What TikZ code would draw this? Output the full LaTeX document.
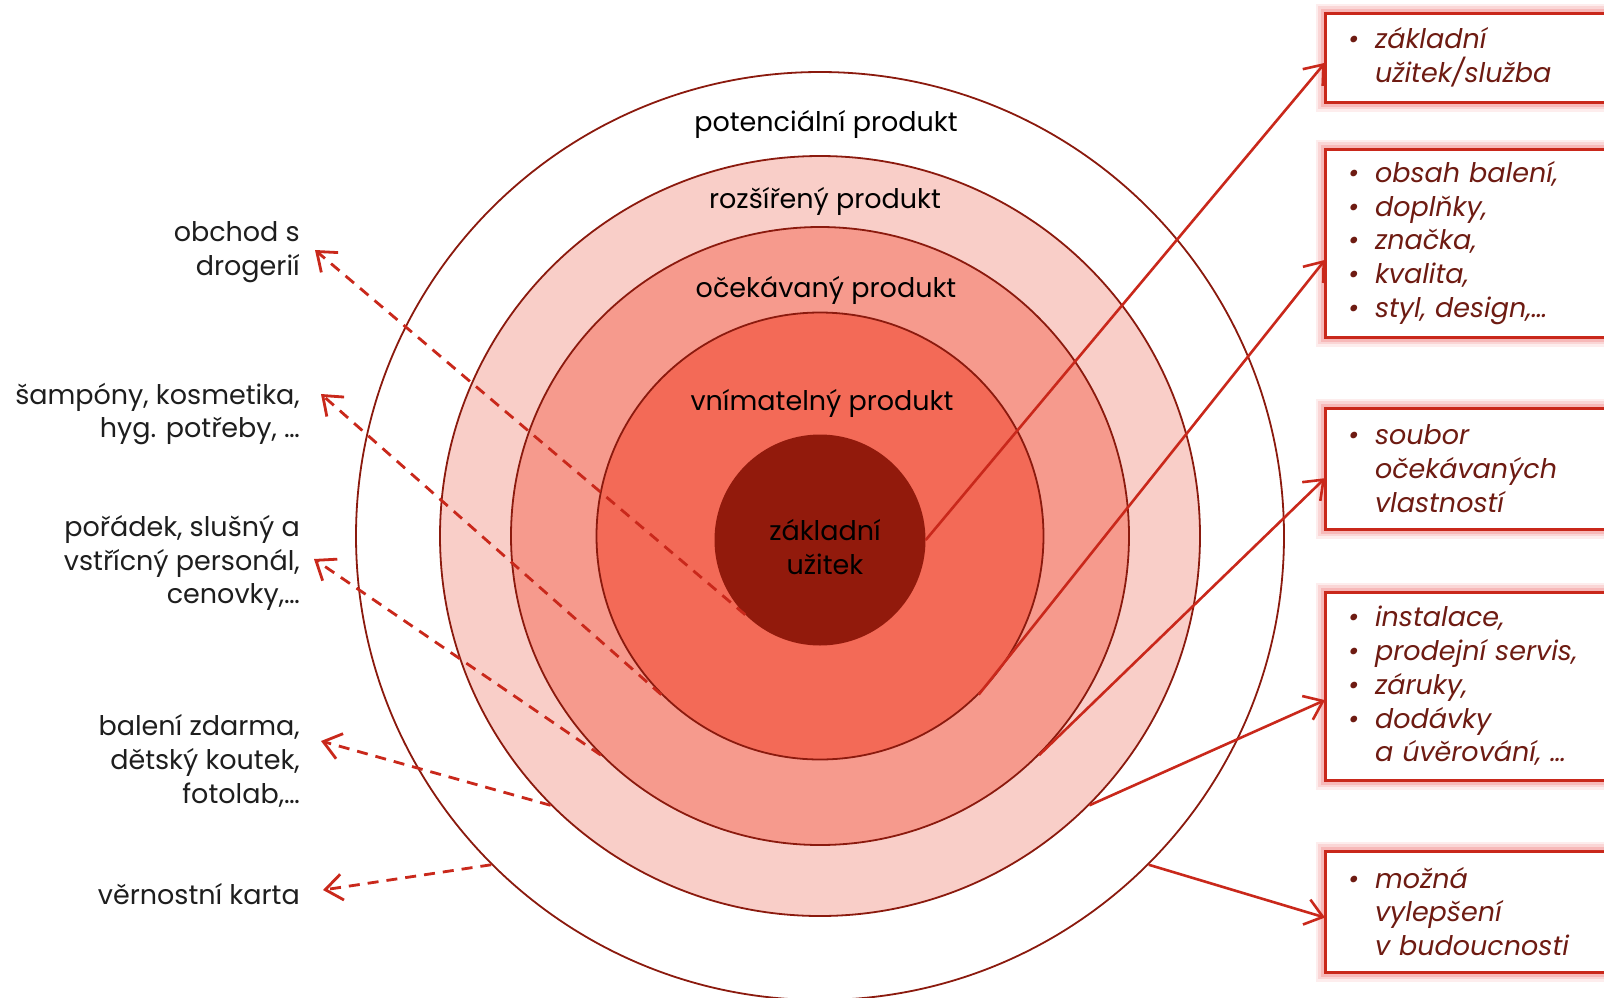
\documentclass[tikz,border=0pt]{standalone}
\usepackage{fontspec}
\setmainfont{Poppins}
\usetikzlibrary{arrows.meta,calc}

\definecolor{ringline}{HTML}{8B1A0E}
\definecolor{ringA}{HTML}{F9CEC8}
\definecolor{ringB}{HTML}{F69A8D}
\definecolor{ringC}{HTML}{F36A57}
\definecolor{core}{HTML}{921A0C}
\definecolor{arrowred}{HTML}{C9281B}
\definecolor{boxtext}{HTML}{6E1B12}
\definecolor{labeltext}{HTML}{1E1E1E}
\definecolor{glow}{HTML}{F07070}

\newcommand{\bitem}[1]{\makebox[27pt][l]{\textbullet}#1}
\newcommand{\cont}[1]{\hspace*{27pt}#1}

\begin{document}
\begin{tikzpicture}[x=1pt,y=-1pt,
  txt/.style={font=\fontsize{27}{33.7}\selectfont, inner sep=0pt},
  ring/.style={circle, draw=ringline, line width=1.8pt, inner sep=0pt},
  lefttext/.style={txt, text=labeltext, align=right, anchor=east},
  ringtext/.style={txt, text=black, align=center},
  infobox/.style={rectangle, draw=arrowred, line width=3pt, fill=white,
    outer sep=0pt, anchor=north west, minimum width=330pt,
    text width=290pt, inner xsep=23pt, align=left,
    font=\fontsize{27}{33.7}\selectfont\itshape, text=boxtext,
    preaction={draw=glow, line width=19pt, draw opacity=0.12},
    preaction={draw=glow, line width=14pt, draw opacity=0.18},
    preaction={draw=glow, line width=9pt, draw opacity=0.28}},
  dasharrow/.style={draw=arrowred, line width=2.8pt, dash pattern=on 11pt off 8pt,
    -{Straight Barb[length=17pt,width=26pt]}},
  solidarrow/.style={draw=arrowred, line width=2.6pt,
    -{Straight Barb[length=17pt,width=26pt]}}
]
\clip (0,0) rectangle (1604,997);
\fill[white] (0,0) rectangle (1604,997);

% concentric product levels
\node[ring, fill=white, minimum size=928pt] (outer) at (820,536) {};
\node[ring, fill=ringA, minimum size=760pt] (ext) at (820,536) {};
\node[ring, fill=ringB, minimum size=618pt] (exp) at (820,536) {};
\node[ring, fill=ringC, minimum size=447pt] (tang) at (820,536) {};
\node[circle, fill=core, inner sep=0pt, minimum size=211pt] (core) at (820,540) {};

% level names
\node[ringtext] (lpot) at (826,124) {potenciální produkt};
\node[ringtext] (lext) at (825,201) {rozšířený produkt};
\node[ringtext] (lexp) at (826,290) {očekávaný produkt};
\node[ringtext] (ltang) at (822,403) {vnímatelný produkt};
\node[ringtext] (lcore) at (825,547) {základní\\užitek};

% examples on the left
\node[lefttext] (ex1) at (300,252) {obchod s\\drogerií};
\node[lefttext] (ex2) at (300,414) {šampóny, kosmetika,\\hyg. potřeby, …};
\node[lefttext] (ex3) at (300,563) {pořádek, slušný a\\vstřícný personál,\\cenovky,…};
\node[lefttext] (ex4) at (300,761) {balení zdarma,\\dětský koutek,\\fotolab,…};
\node[lefttext] (ex5) at (300,894) {věrnostní karta};

\coordinate (t1) at (315,250);
\coordinate (t2) at (321,394);
\coordinate (t3) at (314,559);
\coordinate (t4) at (321,741);
\coordinate (t5) at (323,890);

% descriptions on the right
\node[infobox, minimum height=89pt] (b1) at (1325,13)
  {\bitem{základní}\\\cont{užitek/služba}};
\node[infobox, minimum height=188pt] (b2) at (1325,149)
  {\bitem{obsah balení,}\\\bitem{doplňky,}\\\bitem{značka,}\\\bitem{kvalita,}\\\bitem{styl, design,…}};
\node[infobox, minimum height=121pt] (b3) at (1325,408)
  {\bitem{soubor}\\\cont{očekávaných}\\\cont{vlastností}};
\node[infobox, minimum height=188pt] (b4) at (1325,592)
  {\bitem{instalace,}\\\bitem{prodejní servis,}\\\bitem{záruky,}\\\bitem{dodávky}\\\cont{a úvěrování, …}};
\node[infobox, minimum height=121pt] (b5) at (1325,851)
  {\bitem{možná}\\\cont{vylepšení}\\\cont{v budoucnosti}};

% connectors
\draw[dasharrow] (core.225) -- (t1);
\draw[dasharrow] (tang.225) -- (t2);
\draw[dasharrow] (exp.225) -- (t3);
\draw[dasharrow] (ext.225) -- (t4);
\draw[dasharrow] (outer.225) -- (t5);

\draw[solidarrow] (core.0) -- ($(b1.north west)!0.56!(b1.south west)$);
\draw[solidarrow] (tang.-45) -- ($(b2.north west)!0.59!(b2.south west)$);
\draw[solidarrow] (exp.-45) -- ($(b3.north west)!0.58!(b3.south west)$);
\draw[solidarrow] (ext.-45) -- ($(b4.north west)!0.575!(b4.south west)$);
\draw[solidarrow] (outer.-45) -- ($(b5.north west)!0.55!(b5.south west)$);
\end{tikzpicture}
\end{document}
